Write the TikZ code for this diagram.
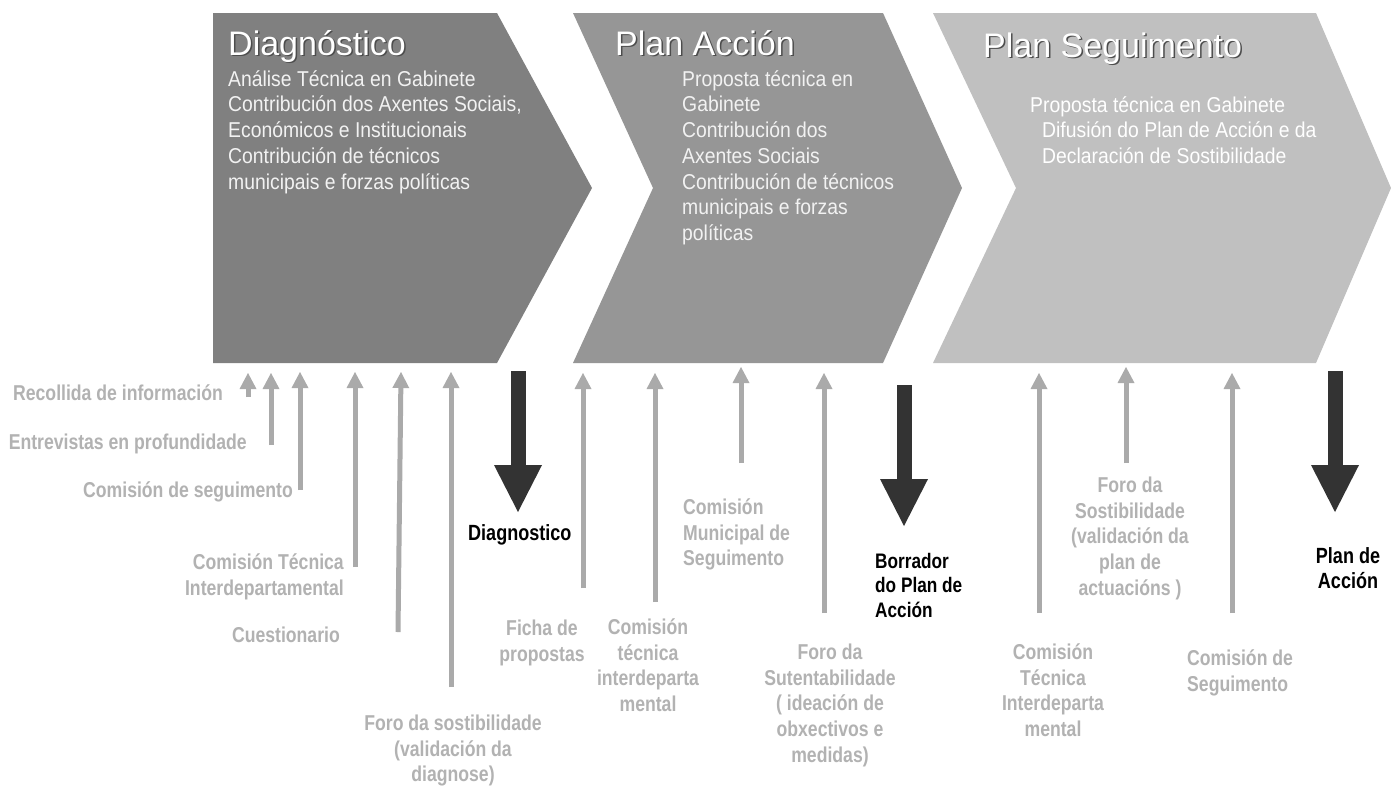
\documentclass[tikz,border=0pt]{standalone}
\usepackage{fontspec}
\setmainfont{Liberation Sans}
\newfontfamily\nbold{Liberation Sans}[FakeStretch=0.82]
\newfontfamily\nreg{Liberation Sans}[FakeStretch=0.9]
\usetikzlibrary{arrows.meta}
\definecolor{cA}{HTML}{808080}
\definecolor{cB}{HTML}{969696}
\definecolor{cC}{HTML}{C0C0C0}
\definecolor{garrow}{HTML}{AAAAAA}
\definecolor{gtext}{HTML}{B2B2B2}
\definecolor{barrow}{HTML}{333333}
\definecolor{shade}{HTML}{4D4D4D}
\newcommand\shtxt[1]{\makebox[0pt][l]{\hspace{1.5pt}\raisebox{-1.5pt}{\textcolor{shade}{#1}}}#1}
\newcommand\stt{\rule{0pt}{22pt}}
\begin{document}
\begin{tikzpicture}[x=1pt,y=-1pt,
 inarrow/.style={garrow, line width=5pt, -{Triangle[width=17pt,length=16pt,line width=0pt]}},
 outarrow/.style={barrow, line width=15pt, -{Triangle[width=48pt,length=47pt,line width=0pt]}},
 lbl/.style={text=gtext, inner sep=0pt, font=\nbold\bfseries\fontsize{21.5}{25.8}\selectfont},
 res/.style={text=black, inner sep=0pt, font=\nbold\bfseries\fontsize{22}{24.5}\selectfont},
 title/.style={text=white, inner sep=0pt, font=\fontsize{34}{40}\selectfont},
 sub/.style={text=white!95!black, inner sep=0pt, align=left, font=\nreg\fontsize{21.5}{25.7}\selectfont},
]
\fill[white] (0,0) rectangle (1391,785);
\useasboundingbox (0,0) rectangle (1391,785);

% chevrons
\fill[cA] (213,13) -- (497,13) -- (592,188) -- (497,363) -- (213,363) -- cycle;
\fill[cB] (573,13) -- (883,13) -- (962,188) -- (883,363) -- (573,363) -- (653,188) -- cycle;
\fill[cC] (933,13) -- (1316,13) -- (1391,188) -- (1316,363) -- (933,363) -- (1016,188) -- cycle;

% titles
\node[title, anchor=base west] (tDiag) at (228,55) {\shtxt{Diagnóstico}};
\node[title, anchor=base west] (tPlan) at (615,55) {\shtxt{Plan Acción}};
\node[title, anchor=base west] (tSeg) at (983,57) {\shtxt{Plan Seguimento}};

% chevron texts
\node[sub, anchor=north west] (sDiag) at (228,64) {\stt Análise Técnica en Gabinete\\Contribución dos Axentes Sociais,\\Económicos e Institucionais\\Contribución de técnicos\\municipais e forzas políticas};
\node[sub, anchor=north west] (sPlan) at (682,64) {\stt Proposta técnica en\\Gabinete\\Contribución dos\\Axentes Sociais\\Contribución de técnicos\\municipais e forzas\\políticas};
\node[sub, text=white, anchor=north west] (sSeg) at (1030,90) {\stt Proposta técnica en Gabinete\\\hspace*{12pt}Difusión do Plan de Acción e da\\\hspace*{12pt}Declaración de Sostibilidade};

% gray input arrows
\foreach \n/\xt/\xb/\yt/\yb in {1/248/248/373/397, 2/271/271/373/445, 3/300/300/372/490,
  4/355/355/372/567, 5/401/398/372/632, 6/451/451/372/687, 7/583/583/373/588,
  8/655/655/373/602, 9/741/741/367/463, 10/824/824/373/613, 11/1039/1039/373/613,
  12/1126/1126/367/463, 13/1232/1232/373/613}{
  \coordinate (g\n s) at (\xb,\yb);
  \coordinate (g\n e) at (\xt,\yt);
  \draw[inarrow] (g\n s) -- (g\n e);
}

% black output arrows
\foreach \n/\x/\yt/\yb in {A/518/371/512, B/904/385/526, C/1335/371/512}{
  \coordinate (o\n s) at (\x,\yt);
  \coordinate (o\n e) at (\x,\yb);
  \draw[outarrow] (o\n s) -- (o\n e);
}

% gray labels
\node[lbl, anchor=base east] (lRec) at (223,400) {Recollida de información};
\node[lbl, anchor=base east] (lEnt) at (247,449) {Entrevistas en profundidade};
\node[lbl, anchor=base east] (lCom) at (293,497) {Comisión de seguimento};
\node[lbl, anchor=north east, align=right] (lCTI) at (344,547) {\stt Comisión Técnica\\Interdepartamental};
\node[lbl, anchor=base east] (lCue) at (340,642) {Cuestionario};
\node[lbl, anchor=north, align=center] (lForo1) at (453,708) {\stt Foro da sostibilidade\\(validación da\\diagnose)};
\node[lbl, anchor=north, align=center] (lFicha) at (542,613) {\stt Ficha de\\propostas};
\node[lbl, anchor=north, align=center] (lCti2) at (648,612) {\stt Comisión\\técnica\\interdeparta\\mental};
\node[lbl, anchor=north west, align=left] (lCMS) at (683,492) {\stt Comisión\\Municipal de\\Seguimento};
\node[lbl, anchor=north, align=center] (lForo2) at (830,637) {\stt Foro da\\Sutentabilidade\\( ideación de\\obxectivos e\\medidas)};
\node[lbl, anchor=north, align=center] (lCti3) at (1053,637) {\stt Comisión\\Técnica\\Interdeparta\\mental};
\node[lbl, anchor=north, align=center] (lForo3) at (1130,470) {\stt Foro da\\Sostibilidade\\(validación da\\plan de\\actuacións )};
\node[lbl, anchor=north west, align=left] (lCS) at (1187,643) {\stt Comisión de\\Seguimento};

% black result labels
\node[res, anchor=base west] (rDiag) at (468,540) {Diagnostico};
\node[res, font=\nbold\bfseries\fontsize{21}{24.5}\selectfont, anchor=north west, align=left] (rBor) at (875,546) {\stt Borrador\\do Plan de\\Acción};
\node[res, font=\nbold\bfseries\fontsize{22}{25}\selectfont, anchor=north, align=center] (rPlan) at (1348,541) {\stt Plan de\\Acción};
\end{tikzpicture}
\end{document}
